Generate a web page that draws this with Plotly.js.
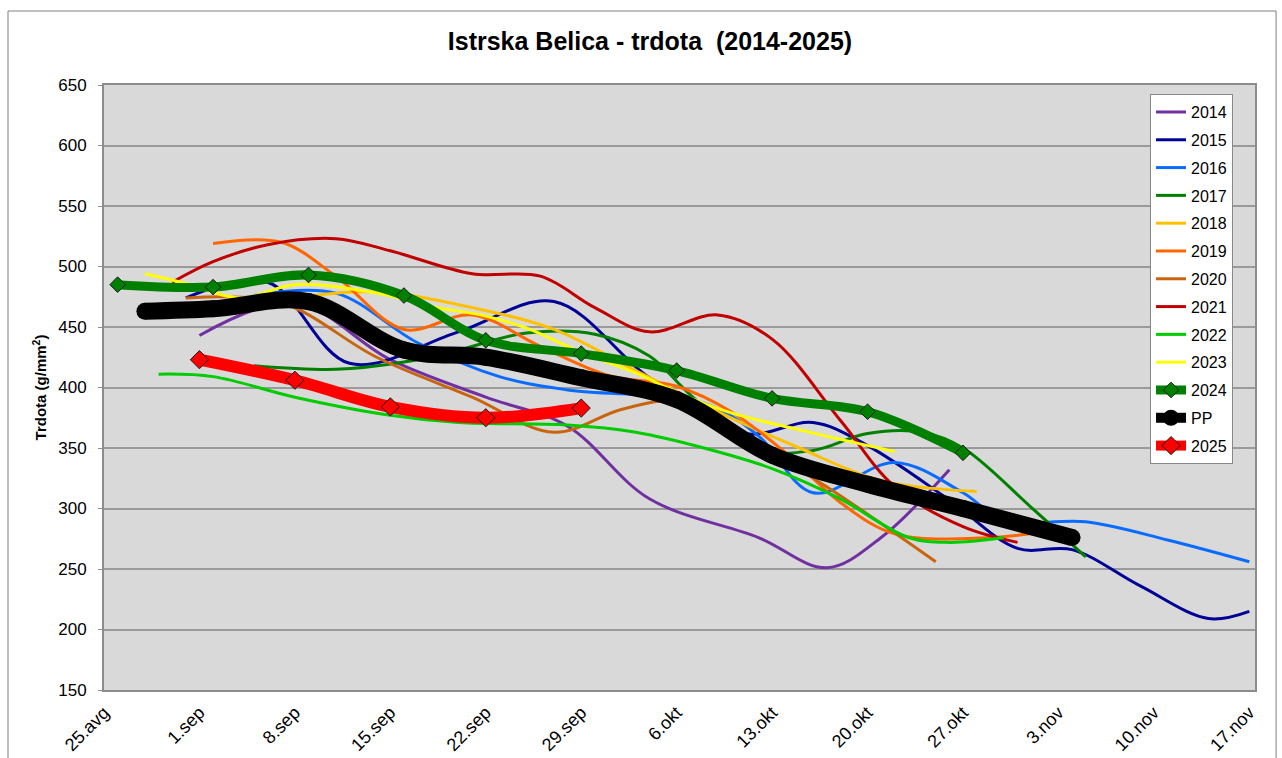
<!DOCTYPE html>
<html>
<head>
<meta charset="utf-8">
<script src="https://cdn.plot.ly/plotly-3.0.1.min.js"></script>
<style>
html,body{margin:0;padding:0;background:#fff;}
#chart{width:1282px;height:758px;}
</style>
</head>
<body>
<div id="chart"></div>
<script>
// ---- data (day.month, value) ----
const SEASON_YEAR = 2025;
const tickDates  = ['25.8','1.9','8.9','15.9','22.9','29.9','6.10','13.10','20.10','27.10','3.11','10.11','17.11'];
const tickLabels = ['25.avg','1.sep','8.sep','15.sep','22.sep','29.sep','6.okt','13.okt','20.okt','27.okt','3.nov','10.nov','17.nov'];

const d2014 = ['1.9','8.9','15.9','22.9','28.9','4.10','12.10','17.10','21.10','26.10'];
const v2014 = [443,470,423,392,368,308,276,251,276,332];

const d2015 = ['31.8','6.9','12.9','20.9','27.9','4.10','11.10','16.10','20.10','26.10','31.10','4.11','9.11','14.11','17.11'];
const v2015 = [474,487,420,446,471,408,362,371,352,307,267,266,236,209,215];

const d2016 = ['5.9','11.9','17.9','23.9','28.9','8.10','12.10','16.10','22.10','27.10','30.10','5.11','11.11','17.11'];
const v2016 = [476,478,437,409,398,387,360,313,338,313,290,289,274,256];

const d2017 = ['5.9','11.9','16.9','20.9','25.9','30.9','4.10','7.10','12.10','16.10','20.10','24.10','27.10','1.11','5.11'];
const v2017 = [418,415,421,431,445,444,426,394,349,348,362,363,350,301,260];

const d2018 = ['1.9','8.9','14.9','21.9','27.9','3.10','9.10','15.10','21.10','28.10'];
const v2018 = [460,474,479,466,448,414,380,350,323,314];

const d2019 = ['2.9','7.9','11.9','16.9','21.9','26.9','1.10','6.10','10.10','14.10','18.10','22.10','29.10','2.11'];
const v2019 = [519,520,492,448,460,434,410,401,380,346,305,279,276,281];

const d2020 = ['31.8','7.9','14.9','21.9','27.9','2.10','6.10','13.10','17.10','25.10'];
const v2020 = [474,470,425,392,363,382,388,345,318,256];

const d2021 = ['30.8','2.9','6.9','11.9','15.9','21.9','26.9','30.9','4.10','9.10','13.10','18.10','22.10','27.10','31.10'];
const v2021 = [487,504,518,523,513,494,492,466,446,460,440,373,318,285,272];

const d2022 = ['29.8','2.9','8.9','15.9','20.9','28.9','3.10','8.10','13.10','18.10','23.10','26.10','30.10'];
const v2022 = [411,409,392,377,371,369,363,350,333,308,276,272,276];

const d2023 = ['28.8','31.8','4.9','8.9','14.9','18.9','22.9','25.9','29.9','3.10','6.10','10.10','15.10','22.10'];
const v2023 = [494,486,474,485,478,467,459,449,429,412,396,379,365,347];

const d2024 = ['26.8','2.9','9.9','16.9','22.9','29.9','6.10','13.10','20.10','27.10'];
const v2024 = [485,483,493,476,439,428,414,391,380,346];

const dPP = ['28.8','2.9','9.9','16.9','22.9','29.9','6.10','13.10','20.10','27.10','4.11'];
const vPP = [463,465,471,431,425,408,390,344,320,300,276];

const d2025 = ['1.9','8.9','15.9','22.9','29.9'];
const v2025 = [423,406,384,375,383];

const seriesNames = ['2014','2015','2016','2017','2018','2019','2020','2021','2022','2023','2024','PP','2025'];
// ---- helpers ----
function toDate(s){
  const p = s.split('.');
  const d = p[0].padStart(2,'0'), m = p[1].padStart(2,'0');
  return SEASON_YEAR + '-' + m + '-' + d;
}
const dates = arr => arr.map(toDate);

const allDates = [d2014,d2015,d2016,d2017,d2018,d2019,d2020,d2021,d2022,d2023,d2024,dPP,d2025];
const allVals  = [v2014,v2015,v2016,v2017,v2018,v2019,v2020,v2021,v2022,v2023,v2024,vPP,v2025];
const colors   = ['#7030A0','#000096','#0A6CFF','#008000','#FFC000','#FF6600','#C9650F','#C00000','#00CC00','#FFFF00','#008000','#000000','#FF0000'];
const widths   = [3,3,3,3,3,3,3,3,3,3,9,17,12];

const traces = seriesNames.map((name,i)=>{
  const t = {
    type:'scatter', mode:'lines', name:name,
    x: dates(allDates[i]), y: allVals[i],
    line:{color:colors[i], width:widths[i], shape:'spline', smoothing:1},
    legendgroup:'g'+i, hoverinfo:'skip'
  };
  if(name==='2024'){
    t.mode='lines+markers';
    t.marker={symbol:'diamond', size:12, color:'#008000', line:{color:'#1a1a1a', width:1}};
  } else if(name==='2025'){
    t.mode='lines+markers';
    t.marker={symbol:'diamond', size:14, color:'#FF0000', line:{color:'#1a1a1a', width:1}};
  } else if(name==='PP'){
    t.mode='lines+markers';
    t.marker={symbol:'circle', size:17, color:'#000000'};
  }
  return t;
});

const fontFam = 'Liberation Sans, Arial, sans-serif';
const layout = {
  width:1282, height:758,
  paper_bgcolor:'#ffffff', plot_bgcolor:'#D9D9D9',
  margin:{l:104, r:27, t:85, b:68},
  font:{family:fontFam, color:'#000', size:15},
  title:{text:'<b>Istrska Belica - trdota  (2014-2025)</b>', x:0.507, xanchor:'center', y:0.946, yanchor:'middle',
         font:{family:fontFam, size:25, color:'#000'}},
  showlegend:true,
  legend:{x:0.9088, xanchor:'left', y:0.985, yanchor:'top', bgcolor:'#ffffff', bordercolor:'#888888', borderwidth:1,
          font:{family:fontFam, size:16, color:'#000'}, tracegroupgap:4, itemwidth:30},
  xaxis:{type:'date', range:[toDate('25.8'), SEASON_YEAR+'-11-17 10:00'],
         tickmode:'array', tickvals:dates(tickDates), ticktext:tickLabels, tickangle:-45,
         showgrid:false, zeroline:false, showline:true, linecolor:'#8c8c8c', linewidth:2, mirror:true,
         ticks:'', tickfont:{size:18, family:fontFam}, ticklabelstandoff:3},
  yaxis:{range:[150,650], tick0:150, dtick:50, showgrid:true, gridcolor:'#9a9a9a', gridwidth:2,
         zeroline:false, showline:true, linecolor:'#8c8c8c', linewidth:2, mirror:true,
         ticks:'outside', ticklen:4, tickcolor:'#8c8c8c', tickfont:{size:17, family:fontFam},
         ticklabelstandoff:8,
         title:{text:'<b>Trdota (g/mm<sup>2</sup>)</b>', font:{size:15, family:fontFam}, standoff:8}},
  shapes:[{type:'rect', xref:'paper', yref:'paper', x0:-0.0834, x1:1.0183, y0:-0.14, y1:1.1223,
           line:{color:'#808080', width:1}, fillcolor:'rgba(0,0,0,0)', layer:'above'}]
};

Plotly.newPlot('chart', traces, layout, {displayModeBar:false, staticPlot:true});
</script>
</body>
</html>
